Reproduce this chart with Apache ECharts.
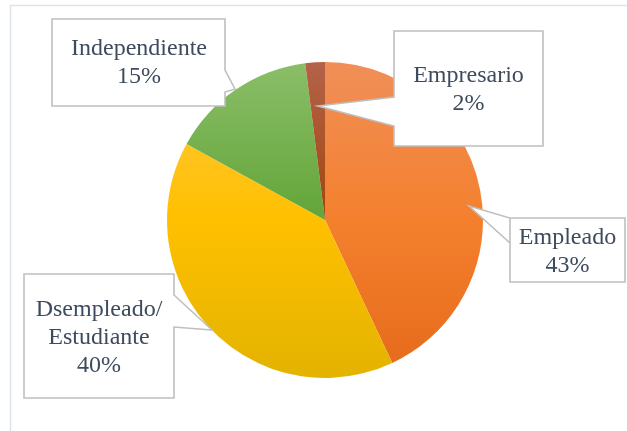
<!DOCTYPE html>
<html>
<head>
<meta charset="utf-8">
<script src="https://cdn.jsdelivr.net/npm/echarts@6/dist/echarts.min.js"></script>
<style>
html,body{margin:0;padding:0;background:#fff;}
#chart{width:627px;height:431px;}
</style>
</head>
<body>
<div id="chart"></div>
<script>
// ---- data ----
var categories = ['Empleado', 'Dsempleado/\nEstudiante', 'Independiente', 'Empresario'];
var values = [43, 40, 15, 2];
var percentLabels = ['43%', '40%', '15%', '2%'];

// ---- styles / layout (not data) ----
var PIE_TOP = 62, PIE_BOTTOM = 378;
function grad(top, mid, bottom) {
  return {type: 'linear', x: 0, y: PIE_TOP, x2: 0, y2: PIE_BOTTOM, global: true,
    colorStops: [{offset: 0, color: top}, {offset: 0.5, color: mid}, {offset: 1, color: bottom}]};
}
var sliceColors = [
  grad('#F08F58', '#F4802E', '#E56A1A'),
  grad('#FFC843', '#FFC000', '#E3B300'),
  grad('#8BBE69', '#62A538', '#589A2C'),
  grad('#B4634A', '#A0460C', '#963C06')
];
// callout boxes: [left, top, right, bottom], wedge [base1, tip, base2], text centre
var callouts = [
  {box: [510, 218, 625, 282], side: 'left', base1: [510, 218], tip: [469, 206], base2: [510, 243], cx: 567.5, cy: 252},
  {box: [24, 274, 174, 398], side: 'right', base1: [174, 295], tip: [212, 330], base2: [174, 327], cx: 99, cy: 338},
  {box: [52, 19, 225, 106], side: 'right', base1: [225, 70], tip: [235, 89], base2: [225, 92], cx: 139, cy: 63},
  {box: [394, 31, 543, 146], side: 'left', base1: [394, 126], tip: [318, 106], base2: [394, 97], cx: 468.5, cy: 90}
];

function calloutPoints(c) {
  var l = c.box[0], t = c.box[1], r = c.box[2], b = c.box[3];
  if (c.side === 'right') {
    return [[l, t], [r, t], c.base1, c.tip, c.base2, [r, b], [l, b]];
  } else {
    return [[l, t], [r, t], [r, b], [l, b], c.base1, c.tip, c.base2];
  }
}

var graphics = [
  {type: 'polyline', z: 0, shape: {points: [[10.5, 431], [10.5, 5.5], [627, 5.5]]},
   style: {stroke: '#DDE3EB', lineWidth: 1.5, fill: null}, silent: true}
];
callouts.forEach(function (c, i) {
  graphics.push({
    type: 'polygon', z: 10,
    shape: {points: calloutPoints(c)},
    style: {fill: '#FFFFFF', stroke: '#BFBFBF', lineWidth: 1.6}
  });
  graphics.push({
    type: 'text', z: 11,
    x: c.cx, y: c.cy,
    style: {
      text: categories[i] + '\n' + percentLabels[i],
      font: '24px "Liberation Serif", "Times New Roman", serif',
      fill: '#3E4B5E', align: 'center', verticalAlign: 'middle', lineHeight: 28
    }
  });
});

var chart = echarts.init(document.getElementById('chart'), null, {renderer: 'canvas'});
chart.setOption({
  animation: false,
  backgroundColor: '#FFFFFF',
  graphic: graphics,
  series: [{
    type: 'pie',
    center: [325, 220],
    radius: [0, 158],
    startAngle: 90,
    clockwise: true,
    label: {show: false},
    labelLine: {show: false},
    itemStyle: {borderWidth: 0},
    data: values.map(function (v, i) {
      return {value: v, name: categories[i], itemStyle: {color: sliceColors[i]}};
    })
  }]
});
</script>
</body>
</html>
